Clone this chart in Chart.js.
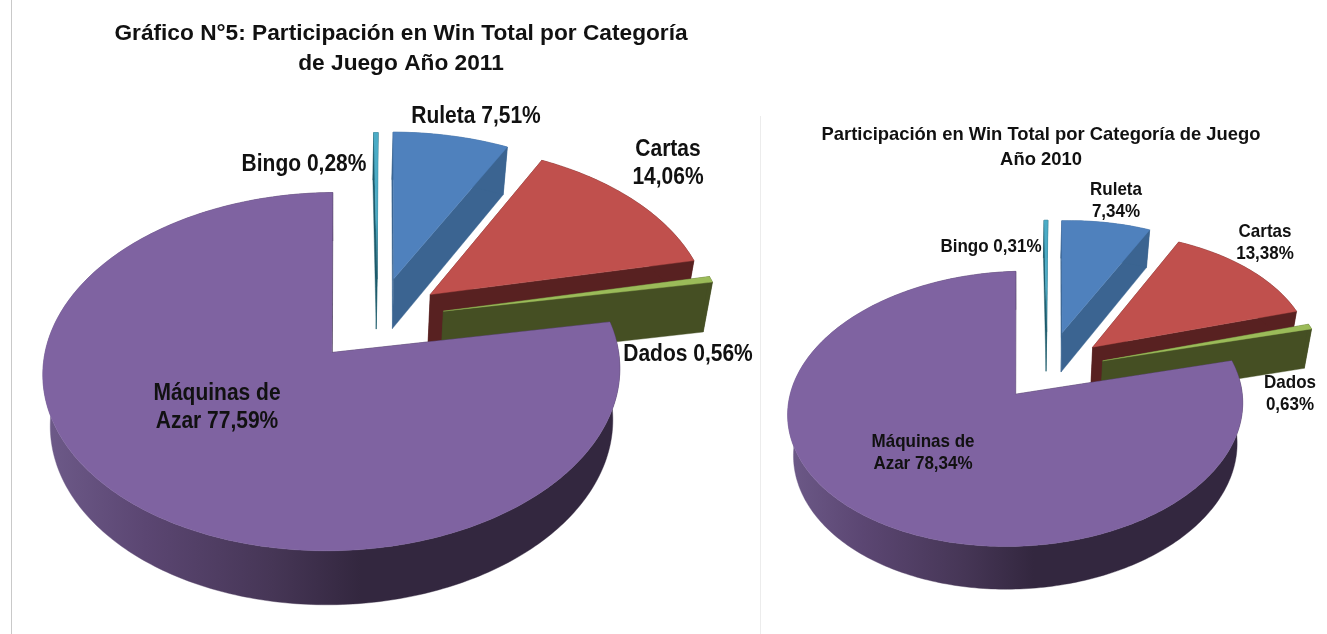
<!DOCTYPE html>
<html lang="es">
<head>
<meta charset="utf-8">
<title>Participación en Win Total por Categoría de Juego</title>
<style>
html,body{margin:0;padding:0;background:#fff;width:1327px;height:634px;overflow:hidden}
canvas{position:absolute;top:0}
.rule{position:absolute;width:1px}
</style>
<script src="https://cdn.jsdelivr.net/npm/chart.js@4/dist/chart.umd.min.js"></script>
</head>
<body>
<div class="rule" style="left:11px;top:0;height:634px;background:#c9c9c9"></div>
<div class="rule" style="left:760px;top:116px;height:518px;background:#ececec"></div>
<canvas id="c2011" width="802" height="634" style="left:0"></canvas>
<canvas id="c2010" width="574" height="634" style="left:754px"></canvas>
<script>
const categories = ['Bingo', 'Ruleta', 'Cartas', 'Dados', 'Máquinas de Azar'];
const values2011 = [0.28, 7.51, 14.06, 0.56, 77.59];
const values2010 = [0.31, 7.34, 13.38, 0.63, 78.34];
const labels2011 = [['Bingo 0,28%'], ['Ruleta 7,51%'], ['Cartas', '14,06%'], ['Dados 0,56%'], ['Máquinas de', 'Azar 77,59%']];
const labels2010 = [['Bingo 0,31%'], ['Ruleta', '7,34%'], ['Cartas', '13,38%'], ['Dados', '0,63%'], ['Máquinas de', 'Azar 78,34%']];
const title2011 = ['Gráfico N°5: Participación en Win Total por Categoría', 'de Juego Año 2011'];
const title2010 = ['Participación en Win Total por Categoría de Juego', 'Año 2010'];
const topColors = ['#4bacc6', '#4f81bd', '#c0504d', '#9bbb59', '#7f63a1'];
const wallColors = ['#1d5a6b', '#3b6491', '#582121', '#454f23', '#33273f'];
const explode2011 = [24, 25, 24, 24, 25];
const explode2010 = [30, 30, 27, 26, 22.5];

const pie3d = {
  id: 'pie3d',
  beforeDatasetsDraw(chart, args, o) {
    const ctx = chart.ctx, g = o.geo;
    const project = (u, v) => {
      const w = 1 + g.k * v;
      return [g.cx + g.a * u / w, g.cy - g.s * v / w - g.tilt * u, w];
    };
    const lower = p => [g.xc + (p[0] - g.xc) * g.shrink, p[1] + g.depth / Math.sqrt(p[2]), p[2]];
    const fillPoly = (pts, fill) => {
      ctx.beginPath();
      pts.forEach((p, i) => i ? ctx.lineTo(p[0], p[1]) : ctx.moveTo(p[0], p[1]));
      ctx.closePath();
      ctx.fillStyle = fill;
      ctx.fill();
      ctx.strokeStyle = fill;
      ctx.lineWidth = 0.4;
      ctx.stroke();
    };
    chart.getDatasetMeta(0).data.forEach((arc, i) => {
      const { startAngle, endAngle } = arc.getProps(['startAngle', 'endAngle'], true);
      const mid = (startAngle + endAngle) / 2;
      const off = arc.options.offset / 100;
      const u0 = off * Math.cos(mid), v0 = -off * Math.sin(mid);
      const n = Math.max(6, Math.ceil((endAngle - startAngle) * 60));
      const rim = [];
      for (let j = 0; j <= n; j++) {
        const t = startAngle + (endAngle - startAngle) * j / n;
        rim.push(project(u0 + Math.cos(t), v0 - Math.sin(t)));
      }
      const apex = project(u0, v0);
      const wall = wallColors[i];
      const a = rim[0], b = rim[n];
      fillPoly([apex, a, lower(a), lower(apex)], wall);
      fillPoly([apex, b, lower(b), lower(apex)], wall);
      let rimFill = wall;
      if (i === 4) {
        rimFill = ctx.createLinearGradient(g.cx - g.a * 1.2, 0, g.cx + g.a * 0.3, 0);
        rimFill.addColorStop(0, '#6e5b8a');
        rimFill.addColorStop(0.25, '#5b4672');
        rimFill.addColorStop(0.55, '#463656');
        rimFill.addColorStop(0.76, '#33273f');
        rimFill.addColorStop(1, '#33273f');
      }
      fillPoly(rim.concat(rim.map(lower).reverse()), rimFill);
      let topFill = arc.options.backgroundColor;
      if (i === 0) {
        topFill = ctx.createLinearGradient(0, rim[0][1], 0, apex[1]);
        topFill.addColorStop(0, topColors[0]);
        topFill.addColorStop(0.6, topColors[0]);
        topFill.addColorStop(1, wallColors[0]);
      }
      fillPoly([apex].concat(rim), topFill);
    });
    return false;
  },
  afterDraw(chart, args, o) {
    const ctx = chart.ctx;
    ctx.save();
    ctx.fillStyle = '#111';
    ctx.textAlign = 'center';
    ctx.textBaseline = 'middle';
    o.lines.forEach((lines, i) => {
      lines.forEach((text, j) => {
        const anchor = o.anchors[i];
        ctx.font = 'bold ' + o.labelSize + 'px "Liberation Sans", Arial, sans-serif';
        const fit = ctx.measureText(text).width;
        ctx.font = 'bold ' + o.labelTall + 'px "Liberation Sans", Arial, sans-serif';
        ctx.fillText(text, anchor[0], anchor[1] + j * o.lineStep, fit);
      });
    });
    ctx.restore();
  }
};

function build(id, values, explode, title, titleSize, titleLine, titleTop, lines, labelSize, labelTall, lineStep, anchors, geo, left) {
  new Chart(document.getElementById(id), {
    type: 'pie',
    data: {
      labels: categories,
      datasets: [{ data: values, backgroundColor: topColors, offset: explode, borderWidth: 0 }]
    },
    options: {
      responsive: false,
      animation: false,
      rotation: -0.8,
      plugins: {
        legend: { display: false },
        tooltip: { enabled: false },
        title: {
          display: true,
          text: title,
          color: '#111',
          font: { family: '"Liberation Sans", Arial, sans-serif', size: titleSize, weight: 'bold', lineHeight: titleLine },
          padding: { top: titleTop, bottom: 0 }
        },
        pie3d: { geo, lines, labelSize, labelTall, lineStep, anchors: anchors.map(p => [p[0] - left, p[1]]) }
      }
    },
    plugins: [pie3d]
  });
}

build('c2011', values2011, explode2011, title2011, 22.7, 1.32, 19, labels2011, 21, 23, 28,
  [[304, 165], [476, 117], [668, 150], [688, 355], [217, 394]],
  { cx: 377.5, cy: 319, a: 281, s: 170, k: 0.105, depth: 50.5, xc: 340, shrink: 0.975, tilt: 0 }, 0);

build('c2010', values2010, explode2010, title2010, 18.4, 1.36, 122, labels2010, 17, 18.5, 21.5,
  [[991, 247], [1116, 190], [1265, 232], [1290, 383], [923, 442]],
  { cx: 1047 - 754, cy: 370, a: 222, s: 131, k: 0.105, depth: 40, xc: 1020 - 754, shrink: 0.975, tilt: 4 }, 754);
</script>
</body>
</html>
